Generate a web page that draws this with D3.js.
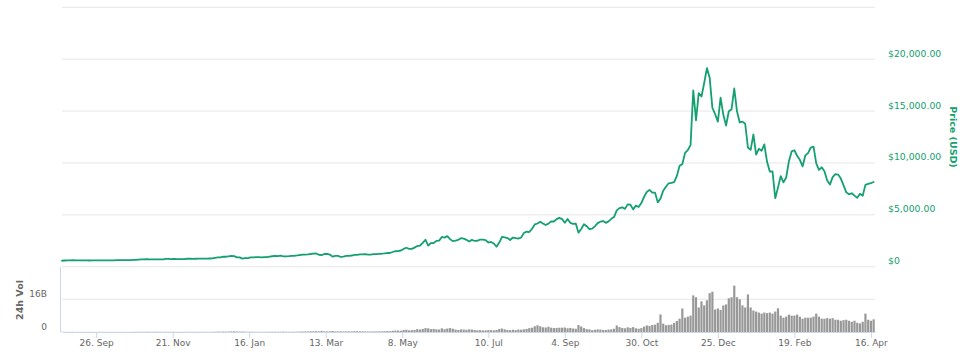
<!DOCTYPE html>
<html><head><meta charset="utf-8">
<script src="https://cdn.jsdelivr.net/npm/d3@7"></script>
<style>
body{margin:0;background:#fff}
svg{display:block;font-family:"DejaVu Sans",sans-serif}
</style>
</head><body>
<svg id="chart" width="974" height="356"></svg>
<script>
// ---- data (2-day sampling starting at startDate) ----
const startDate = "2016-09-01";
const endDate = "2018-04-19";
const stepDays = 2;
const priceUSD = [
 572,599,606,614,623,606,608,607,606,610,597,603,600,606,605,
 613,610,612,617,616,640,636,638,638,630,632,657,652,682,714,699,
 740,703,711,712,715,705,705,745,751,731,751,738,734,734,743,
 772,765,759,768,774,770,779,784,791,800,858,892,907,975,961,
 998,1033,1013,902,902,778,826,822,908,901,925,923,894,918,914,971,
 1008,1044,1024,1061,996,999,1011,1040,1055,1085,1126,1172,1172,1190,
 1223,1265,1276,1151,1117,1226,1244,1175,971,1047,1047,937,967,1046,1037,
 1079,1147,1133,1190,1187,1207,1167,1172,1206,1218,1241,1250,1281,1318,1320,
 1417,1490,1508,1561,1715,1823,1720,1724,1839,1993,2041,2290,2600,2039,2281,2286,
 2489,2516,2863,2805,2946,2659,2466,2518,2589,2752,2711,2589,2426,2585,2480,
 2501,2608,2608,2561,2330,2385,2233,1929,2323,2868,2829,2758,2578,2810,2758,
 2718,2806,3252,3378,3342,3652,4073,4164,4331,4160,4016,4151,4364,4354,4579,4703,
 4582,4236,4597,4229,4123,4161,3277,3637,4100,3905,3631,3666,3892,4200,4338,
 4403,4225,4370,4611,4782,5430,5647,5725,5572,6006,5984,5527,5888,5753,6130,
 6737,7207,7407,7144,7143,6200,6559,7315,7707,8041,8077,8148,8754,9733,9888,
 10975,11246,11716,17000,14100,16733,16408,17706,19140,18200,15300,14699,13983,16300,14640,13600,
 14982,15156,17174,14976,13900,13980,13772,11490,11256,12759,10801,11360,11171,11786,10106,
 9170,9174,6600,7621,8736,8129,8598,10166,11112,11225,10690,10301,9664,10725,
 10951,11489,11573,9965,9337,9578,9194,8300,7916,8630,8929,8879,8495,7834,7165,6973,
 7083,6854,6636,7023,6834,7889,7986,8058,8163
];
const volumeBillions = [
 0.08,0.07,0.07,0.07,0.08,0.06,0.07,0.08,0.06,0.06,0.08,0.07,0.06,0.07,0.07,
 0.07,0.06,0.06,0.06,0.05,0.07,0.06,0.06,0.05,0.06,0.07,0.09,0.08,0.10,0.14,0.10,
 0.13,0.12,0.08,0.10,0.14,0.09,0.08,0.11,0.10,0.09,0.08,0.08,0.07,0.07,0.08,
 0.10,0.09,0.09,0.08,0.09,0.08,0.09,0.10,0.09,0.10,0.12,0.20,0.16,0.24,0.18,
 0.22,0.30,0.35,0.25,0.20,0.25,0.15,0.12,0.14,0.12,0.10,0.10,0.09,0.10,0.09,0.13,
 0.15,0.13,0.12,0.14,0.20,0.13,0.12,0.14,0.13,0.15,0.20,0.28,0.26,0.25,
 0.35,0.35,0.40,0.30,0.55,0.30,0.30,0.35,0.50,0.30,0.30,0.35,0.25,0.30,0.30,
 0.30,0.40,0.40,0.35,0.30,0.30,0.25,0.25,0.30,0.30,0.30,0.35,0.40,0.45,0.40,
 0.6,0.7,0.7,0.6,1.0,1.1,0.8,0.9,1.0,1.4,1.2,1.5,1.9,1.8,1.4,1.5,
 1.3,1.2,1.8,1.4,1.7,1.9,1.6,1.2,1.0,1.3,1.2,1.1,1.3,1.2,1.0,
 0.8,0.9,0.8,0.8,0.9,0.9,0.8,1.0,1.5,1.7,1.3,1.0,0.9,1.1,0.9,
 1.2,1.1,1.3,1.5,1.9,2.1,2.8,3.3,2.8,2.3,2.2,2.6,2.1,1.9,2.0,2.1,
 2.1,2.2,1.8,2.0,1.7,1.6,3.4,2.7,1.9,1.4,1.3,0.9,1.1,1.3,1.2,
 1.0,1.0,1.2,1.3,1.6,3.2,2.4,2.0,1.8,2.3,2.0,2.4,1.8,1.6,1.9,
 2.6,3.2,3.0,3.4,3.6,4.5,8.6,4.1,3.3,3.5,3.6,4.4,5.4,6.5,11.5,
 7.0,7.5,8.0,17.9,17.0,12.0,15.0,13.0,15.5,19.0,19.7,11.0,11.5,10.8,13.0,13.5,
 16.5,17.0,22.7,17.0,16.0,13.0,12.0,18.4,12.0,10.5,10.0,9.5,9.0,9.5,9.2,
 9.5,9.0,10.0,11.6,8.0,7.0,7.5,8.5,8.0,8.0,8.5,7.5,6.5,7.0,
 7.0,7.0,7.5,9.0,7.5,6.5,6.5,6.8,6.5,6.8,6.0,6.0,5.5,5.8,6.0,5.5,
 5.0,5.5,4.5,4.2,5.0,9.0,6.0,5.5,6.2
];
const xTickDates = ["2016-09-26","2016-11-21","2017-01-16","2017-03-13","2017-05-08","2017-07-10",
                    "2017-09-04","2017-10-30","2017-12-25","2018-02-19","2018-04-16"];
const priceGridValues = [0,5000,10000,15000,20000,25000];
const priceTickValues = [0,5000,10000,15000,20000];
const priceTickLabels = ["$0","$5,000.00","$10,000.00","$15,000.00","$20,000.00"];
const volTickValues = [0,16];
const volTickLabels = ["0","16B"];
const priceTitle = "Price (USD)";
const volTitle = "24h Vol";

// ---- styles ----
const GREEN = "#14a06f";
const GRID = "#e6e6e6";
const AXIS = "#ccd6eb";
const LABEL = "#666666";

const svg = d3.select("#chart");
const t0 = new Date(startDate + "T00:00:00Z");
const dates = priceUSD.map((_, i) => d3.utcDay.offset(t0, i * stepDays));

const left = 62, right = 875;
const x = d3.scaleUtc().domain([t0, new Date(endDate + "T00:00:00Z")]).range([left, right]);
const yP = d3.scaleLinear().domain([0, 25000]).range([266.7, 7.3]);
const yV = d3.scaleLinear().domain([0, 32]).range([332, 266.6]);

// price gridlines
svg.append("g").selectAll("line").data(priceGridValues).join("line")
  .attr("x1", left).attr("x2", right)
  .attr("y1", d => yP(d)).attr("y2", d => yP(d))
  .attr("stroke", GRID).attr("stroke-width", 1);

// volume gridline
svg.append("g").selectAll("line").data(volTickValues.filter(v => v > 0)).join("line")
  .attr("x1", left).attr("x2", right)
  .attr("y1", d => yV(d)).attr("y2", d => yV(d))
  .attr("stroke", GRID).attr("stroke-width", 1);

// volume bars
svg.append("g").selectAll("rect").data(volumeBillions).join("rect")
  .attr("x", (d, i) => x(dates[i]) - 1.1)
  .attr("width", 2.2)
  .attr("y", d => yV(d))
  .attr("height", d => yV(0) - yV(d))
  .attr("fill", "#989898");

// price line
const line = d3.line().x((d, i) => x(dates[i])).y(d => yP(d)).curve(d3.curveLinear);
svg.append("path").datum(priceUSD)
  .attr("d", line).attr("fill", "none")
  .attr("stroke", GREEN).attr("stroke-width", 1.8)
  .attr("stroke-linejoin", "round").attr("stroke-linecap", "round");

// price axis (right)
const pAxis = svg.append("g").attr("transform", `translate(${right},0)`)
  .call(d3.axisRight(yP).tickValues(priceTickValues)
    .tickFormat((d, i) => priceTickLabels[i]).tickSize(0).tickPadding(13));
pAxis.select(".domain").remove();
pAxis.selectAll("text").attr("dy", -3).attr("fill", GREEN)
  .style("font-size", "9.3px").style("font-family", '"DejaVu Sans",sans-serif');

svg.append("text")
  .attr("transform", "translate(949.5,137) rotate(90)")
  .attr("text-anchor", "middle")
  .attr("fill", GREEN).style("font-size", "9.5px").style("font-weight", "bold")
  .text(priceTitle);

// volume axis (left)
const vAxis = svg.append("g").attr("transform", "translate(60,0)")
  .call(d3.axisLeft(yV).tickValues(volTickValues)
    .tickFormat((d, i) => volTickLabels[i]).tickSize(0).tickPadding(13).tickSizeOuter(0));
vAxis.select(".domain").attr("stroke", AXIS);
vAxis.selectAll("text").attr("dy", -2.5).attr("fill", LABEL)
  .style("font-size", "9px").style("font-family", '"DejaVu Sans",sans-serif');

svg.append("text")
  .attr("transform", "translate(23,300) rotate(-90)")
  .attr("text-anchor", "middle")
  .attr("fill", LABEL).style("font-size", "9.5px").style("font-weight", "bold")
  .text(volTitle);

// x axis
const xAxis = svg.append("g").attr("transform", `translate(0,${yV(0)})`)
  .call(d3.axisBottom(x).tickValues(xTickDates.map(s => new Date(s + "T00:00:00Z")))
    .tickFormat(d3.utcFormat("%-d. %b")).tickSize(6).tickSizeOuter(0).tickPadding(2));
xAxis.select(".domain").attr("stroke", AXIS);
xAxis.selectAll(".tick line").attr("stroke", AXIS);
xAxis.selectAll("text").attr("fill", LABEL)
  .style("font-size", "9px").style("font-family", '"DejaVu Sans",sans-serif');
</script>
</body></html>
